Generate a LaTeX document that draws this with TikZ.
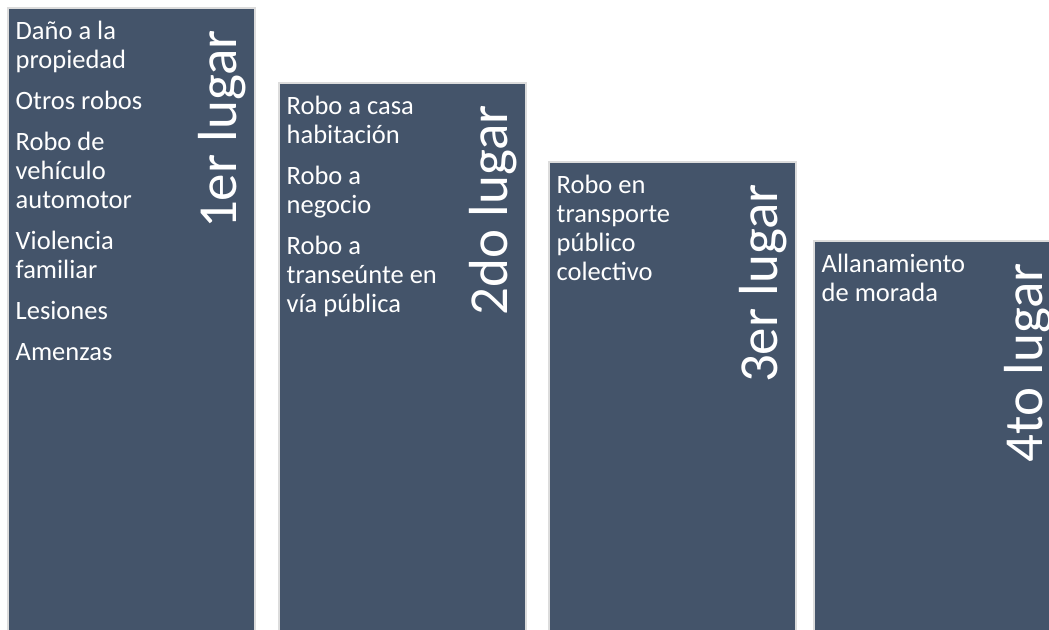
\documentclass[tikz,border=0pt]{standalone}
\usepackage{fontspec}
\usepackage{xcolor}
\setmainfont{Carlito}
\definecolor{slate}{HTML}{44546A}
\definecolor{rim}{HTML}{DCDCDC}
\tikzset{
    rank/.style = {draw=rim, line width=2bp, fill=slate, anchor=north west,
                   minimum width=247bp, minimum height=700bp, inner sep=0pt, outer sep=0pt},
    items/.style = {text=white, anchor=base west, inner sep=0pt, align=flush left, text width=220bp,
                   font=\fontsize{26.5bp}{29bp}\selectfont},
    place/.style = {text=white, anchor=base east, rotate=90, inner sep=0pt,
                   font=\fontsize{55bp}{60bp}\selectfont}
}

\begin{document}
\begin{tikzpicture}[x=1bp, y=1bp]
    \useasboundingbox (0,0) rectangle (1049,630);
    \node [rank] (r1) at (8,622)   {};
    \node [rank] (r2) at (279,547) {};
    \node [rank] (r3) at (549,468) {};
    \node [rank] (r4) at (814,389) {};

    \node [items] (t1) at ([shift={(7.5,-31.5)}]r1.north west)
      {Daño a la\\propiedad\\[12bp]Otros robos\\[12bp]Robo de\\vehículo\\automotor\\[12bp]Violencia\\familiar\\[12bp]Lesiones\\[12bp]Amenzas};
    \node [items] (t2) at ([shift={(7.5,-31.5)}]r2.north west)
      {Robo a casa\\habitación\\[12bp]Robo a\\negocio\\[12bp]Robo a\\transeúnte en\\vía pública};
    \node [items] (t3) at ([shift={(7.5,-31.5)}]r3.north west)
      {Robo en\\transporte\\público\\colectivo};
    \node [items] (t4) at ([shift={(7.5,-31.5)}]r4.north west)
      {Allanamiento\\de morada};

    \node [place] (p1) at ([shift={(-18.5,-22)}]r1.north east) {1er lugar};
    \node [place] (p2) at ([shift={(-18.5,-22)}]r2.north east) {2do lugar};
    \node [place] (p3) at ([shift={(-18.5,-22)}]r3.north east) {3er lugar};
    \node [place] (p4) at ([shift={(-18.5,-22)}]r4.north east) {4to lugar};
\end{tikzpicture}
\end{document}
